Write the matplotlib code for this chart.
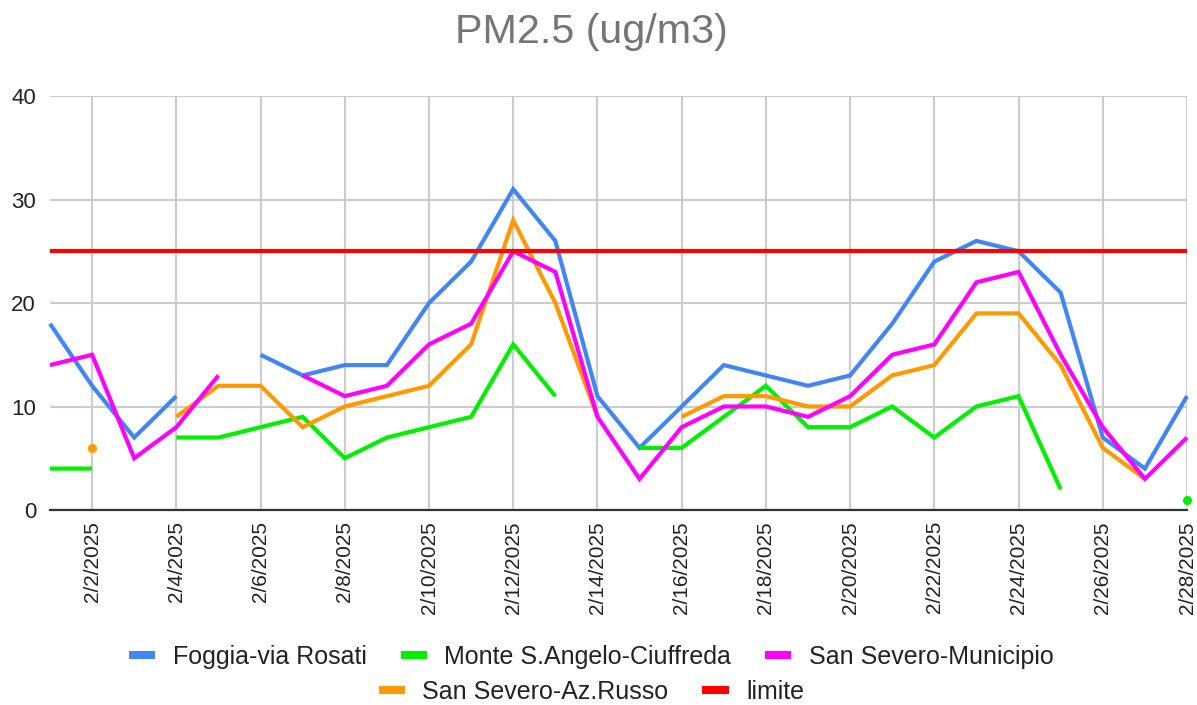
import numpy as np
import pandas as pd
import matplotlib
matplotlib.use("Agg")
import matplotlib.pyplot as plt
from matplotlib.lines import Line2D
from matplotlib.ticker import FuncFormatter, FixedLocator
import matplotlib.dates as mdates

plt.rcParams['font.family'] = ['Liberation Sans', 'DejaVu Sans']

nan = np.nan
dates = pd.date_range("2025-02-01", "2025-02-28", freq="D")

foggia = [18, 12, 7, 11, nan, 15, 13, 14, 14, 20, 24, 31, 26, 11, 6, 10, 14, 13, 12, 13, 18, 24, 26, 25, 21, 7, 4, 11]
monte = [4, 4, nan, 7, 7, 8, 9, 5, 7, 8, 9, 16, 11, nan, 6, 6, 9, 12, 8, 8, 10, 7, 10, 11, 2, nan, nan, 1]
municipio = [14, 15, 5, 8, 13, nan, 13, 11, 12, 16, 18, 25, 23, 9, 3, 8, 10, 10, 9, 11, 15, 16, 22, 23, 15, 8, 3, 7]
russo = [nan, 6, nan, 9, 12, 12, 8, 10, 11, 12, 16, 28, 20, 9, nan, 9, 11, 11, 10, 10, 13, 14, 19, 19, 14, 6, 3, nan]
limite = [25] * 28

series = [
    ("Foggia-via Rosati", foggia, "#4285F4"),
    ("Monte S.Angelo-Ciuffreda", monte, "#00F000"),
    ("San Severo-Municipio", municipio, "#FF00FF"),
    ("San Severo-Az.Russo", russo, "#FF9900"),
    ("limite", limite, "#FF0000"),
]

fig = plt.figure(figsize=(11.97, 7.05), dpi=100)
ax = fig.add_axes([50/1197, 1-510/705, (1187-50)/1197, (510-96)/705])

lw = 3.0
for i in [0, 1, 3, 2, 4]:
    name, vals, col = series[i]
    v = np.array(vals, dtype=float)
    ax.plot(dates, v, color=col, lw=lw, solid_joinstyle='miter', solid_capstyle='butt', zorder=3, clip_on=False)
    prev = np.r_[np.nan, v[:-1]]
    nxt = np.r_[v[1:], np.nan]
    iso = ~np.isnan(v) & np.isnan(prev) & np.isnan(nxt)
    if iso.any():
        ax.plot(dates[iso], v[iso], 'o', color=col, ms=6.5, mew=0, zorder=3, clip_on=False)

ax.set_xlim(dates[0], dates[-1])
ax.set_ylim(0, 40)
ax.set_yticks([0, 10, 20, 30, 40])
ticks = dates[1::2]
ax.xaxis.set_major_locator(FixedLocator(mdates.date2num(ticks)))
ax.xaxis.set_major_formatter(FuncFormatter(lambda x, p: (lambda d: f"{d.month}/{d.day}/{d.year}")(mdates.num2date(x))))
ax.tick_params(axis='x', length=0, pad=8, labelsize=15, labelcolor='#222222', labelrotation=90)
ax.tick_params(axis='y', length=0, pad=10, labelsize=16, labelcolor='#222222')
ax.grid(True, color='#cccccc', lw=1.5, zorder=0)
ax.set_axisbelow(True)
for s in ['top', 'right', 'left']:
    ax.spines[s].set_visible(False)
ax.spines['bottom'].set_color('#333333')
ax.spines['bottom'].set_linewidth(1.6)
ax.spines['bottom'].set_zorder(2)

fig.text(0.494, 0.955, "PM2.5 (ug/m3)", ha='center', va='center', fontsize=29.7, color='#757575')

def handles(idx):
    return [Line2D([0], [0], color=series[i][2], lw=5.8, solid_capstyle='butt') for i in idx]

kw = dict(frameon=False, fontsize=18, handlelength=1.05, handletextpad=0.7, columnspacing=1.35,
          borderaxespad=0, borderpad=0, labelcolor='#222222')
leg1 = fig.legend(handles([0, 1, 2]), [series[i][0] for i in [0, 1, 2]], ncol=3,
                  loc='center', bbox_to_anchor=(0.494, 1-657/705), **kw)
leg2 = fig.legend(handles([3, 4]), [series[i][0] for i in [3, 4]], ncol=2,
                  loc='center', bbox_to_anchor=(0.494, 1-692/705), **kw)

fig.savefig("out.png", dpi=100)
